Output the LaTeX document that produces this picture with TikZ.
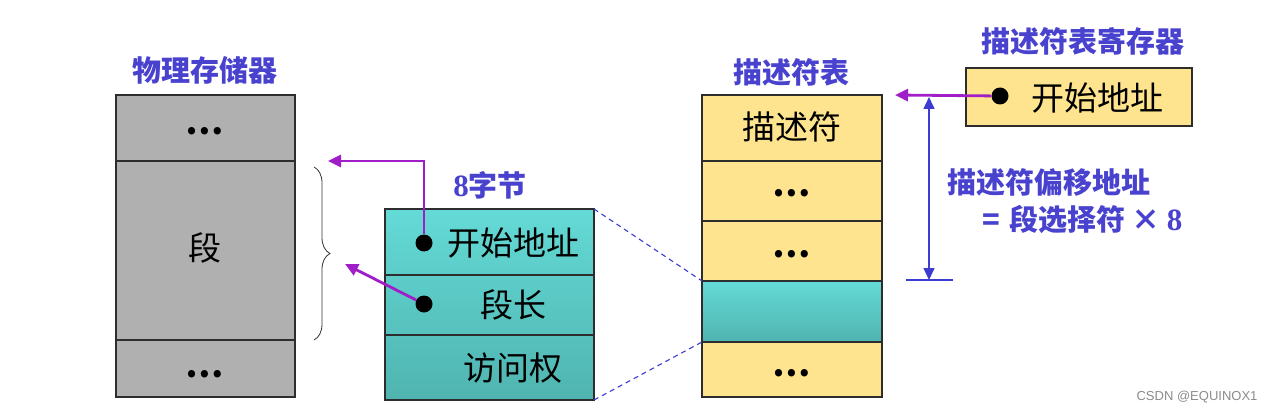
\documentclass[tikz,border=0pt]{standalone}
\usepackage{fontspec}
\setmainfont{Liberation Serif}
\newfontfamily\cjk{Noto Sans CJK SC}
\newfontfamily\wmfont{Liberation Sans}
\usetikzlibrary{arrows.meta,decorations.pathreplacing}
\definecolor{ttlblue}{RGB}{72,66,206}
\definecolor{arrpurple}{RGB}{160,30,200}
\definecolor{lineblue}{RGB}{60,60,210}
\definecolor{memgray}{RGB}{176,176,176}
\definecolor{descyellow}{RGB}{254,228,142}
\definecolor{cyantop}{RGB}{100,218,214}
\definecolor{cyanbot}{RGB}{80,180,176}
\definecolor{edgegray}{RGB}{45,45,45}
\begin{document}
\begin{tikzpicture}[x=1pt,y=-1pt,
  cell/.style={draw=edgegray, line width=1.3pt, inner sep=0pt, outer sep=0pt},
  ttl/.style={text=ttlblue, font=\cjk\bfseries\fontsize{29}{29}\selectfont, inner sep=0pt},
  boxtxt/.style={text=black, font=\cjk\fontsize{33}{33}\selectfont, inner sep=0pt},
  dots/.style={text=black, font=\cjk\bfseries\fontsize{34}{34}\selectfont, inner sep=0pt},
  anno/.style={text=ttlblue, font=\cjk\bfseries\fontsize{29}{29}\selectfont, inner sep=0pt},
  bdot/.style={circle, fill=black, minimum size=17pt, inner sep=0pt},
  parrow/.style={draw=arrpurple, line width=2.8pt, -{Triangle[length=13pt,width=12pt]}},
  barrow/.style={draw=lineblue, line width=1.5pt, {Triangle[length=12pt,width=11pt]}-{Triangle[length=12pt,width=11pt]}},
  dashline/.style={draw=lineblue, line width=1.1pt, dash pattern=on 5pt off 4pt},
]
\useasboundingbox (0,0) rectangle (1268,414);
\fill[white] (0,0) rectangle (1268,414);

% physical memory
\node[ttl] (tmem) at (205,70) {物理存储器};
\node[cell, fill=memgray, minimum width=179pt, minimum height=66pt] (m1) at (205.5,128) {};
\node[cell, fill=memgray, minimum width=179pt, minimum height=179pt] (m2) at (205.5,250.5) {};
\node[cell, fill=memgray, minimum width=179pt, minimum height=57pt] (m3) at (205.5,368.5) {};
\node[dots] (m1t) at (205,131) {…};
\node[boxtxt] (m2t) at (205,248) {段};
\node[dots] (m3t) at (205,374) {…};

% brace
\coordinate (brtop) at (314,167);
\coordinate (brbot) at (314,340);
\draw[decorate, decoration={brace, amplitude=16pt}, line width=0.8pt, draw=black!80] (brtop) -- (brbot);

% descriptor (8 bytes)
\node[ttl] (t8) at (490,185) {{\rmfamily\bfseries\fontsize{31}{31}\selectfont 8}字节};
\node[cell, top color=cyantop, bottom color=cyanbot!35!cyantop, minimum width=209pt, minimum height=66pt] (c1) at (489.5,242) {};
\node[cell, top color=cyanbot!35!cyantop, bottom color=cyanbot!66!cyantop, minimum width=209pt, minimum height=60pt] (c2) at (489.5,305) {};
\node[cell, top color=cyanbot!66!cyantop, bottom color=cyanbot, minimum width=209pt, minimum height=65pt] (c3) at (489.5,367.5) {};
\node[boxtxt] (c1t) at (513,243) {开始地址};
\node[boxtxt] (c2t) at (513,305) {段长};
\node[boxtxt] (c3t) at (513,368) {访问权};
\node[bdot] (d1) at (424,243) {};
\node[bdot] (d2) at (424,304) {};

\coordinate (segtop) at (328,161);
\coordinate (seglen) at (345,264);
\draw[parrow] (d1) |- (segtop);
\draw[parrow] (d2) -- (seglen);

% descriptor table
\node[ttl] (ttab) at (791,72) {描述符表};
\node[cell, fill=descyellow, minimum width=180pt, minimum height=66pt] (t1) at (792,128) {};
\node[cell, fill=descyellow, minimum width=180pt, minimum height=60pt] (t2) at (792,191) {};
\node[cell, fill=descyellow, minimum width=180pt, minimum height=60pt] (t3) at (792,251) {};
\node[cell, top color=cyantop, bottom color=cyanbot, minimum width=180pt, minimum height=61pt] (t4) at (792,311.5) {};
\node[cell, fill=descyellow, minimum width=180pt, minimum height=55pt] (t5) at (792,369.5) {};
\node[boxtxt] (t1t) at (792,127) {描述符};
\node[dots] (t2t) at (792,193) {…};
\node[dots] (t3t) at (792,254) {…};
\node[dots] (t5t) at (792,373) {…};

\draw[dashline] (c1.north east) -- (t4.north west);
\draw[dashline] (c3.south east) -- (t4.south west);

% register
\node[ttl] (treg) at (1083,41) {描述符表寄存器};
\node[cell, fill=descyellow, minimum width=226pt, minimum height=58pt] (reg) at (1079,97) {};
\node[boxtxt] (regt) at (1097,98) {开始地址};
\node[bdot] (rdot) at (1000,96) {};
\coordinate (tabtop) at (895,95);
\draw[parrow] (rdot) -- (tabtop);

% offset
\coordinate (ofstop) at (929,97);
\coordinate (ofsbot) at (929,280);
\coordinate (bl) at (906,280);
\coordinate (br) at (953,280);
\draw[barrow] (ofstop) -- (ofsbot);
\draw[draw=lineblue, line width=1.5pt] (bl) -- (br);
\node[anno, anchor=west] (off1) at (947,182) {描述符偏移地址};
\node[anno, anchor=west] (off2) at (982,219) {=\hspace{10pt}段选择符\hspace{6pt}×\hspace{6pt}{\rmfamily\bfseries\fontsize{31}{31}\selectfont 8}};

% watermark
\node[text=black!45, font=\wmfont\fontsize{13}{13}\selectfont, inner sep=0pt] (wm) at (1197,397) {CSDN @EQUINOX1};
\end{tikzpicture}
\end{document}
